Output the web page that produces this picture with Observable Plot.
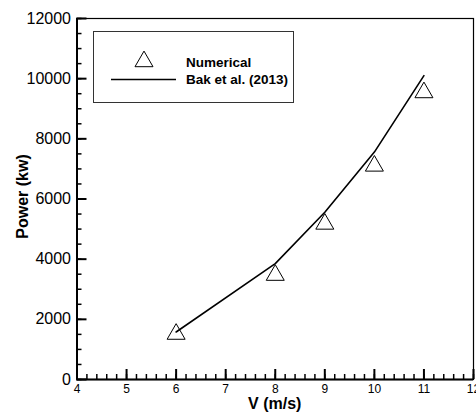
<!DOCTYPE html>
<html>
<head>
<meta charset="utf-8">
<script src="https://cdn.jsdelivr.net/npm/d3@7"></script>
<script src="https://cdn.jsdelivr.net/npm/@observablehq/plot@0.6"></script>
<style>
  body { margin: 0; background: white; }
  #chart { position: relative; width: 476px; height: 416px; }
</style>
</head>
<body>
<div id="chart"></div>
<script>
// Data
const speedNumerical = [6, 8, 9, 10, 11];
const powerNumerical = [1510, 3470, 5170, 7100, 9540];
const speedBak = [6, 8, 9, 10, 11];
const powerBak = [1580, 3850, 5560, 7560, 10100];

const xMajorTicks = [4, 5, 6, 7, 8, 9, 10, 11, 12];
const yMajorTicks = [0, 2000, 4000, 6000, 8000, 10000, 12000];
const xMinorTicks = d3.range(4, 12.0001, 0.2).map(v => +v.toFixed(1));
const yMinorTicks = d3.range(0, 12001, 500);

const legendLabels = ["Numerical", "Bak et al. (2013)"];
const xLabel = "V (m/s)";
const yLabel = "Power (kw)";

const numerical = speedNumerical.map((v, i) => ({v, p: powerNumerical[i]}));
const bak = speedBak.map((v, i) => ({v, p: powerBak[i]}));

const W = 476, H = 416;
const mL = 76.5, mR = 3, mT = 18, mB = 37;
const innerW = W - mL - mR, innerH = H - mT - mB;
const font = "Liberation Sans, Arial, Helvetica, sans-serif";

const plot = Plot.plot({
  width: W,
  height: H,
  marginLeft: mL,
  marginRight: mR,
  marginTop: mT,
  marginBottom: mB,
  style: {fontFamily: font, background: "white", color: "black", overflow: "visible"},
  x: {domain: [4, 12]},
  y: {domain: [0, 12000]},
  marks: [
    Plot.tickX(xMinorTicks, {x: d => d, insetTop: innerH - 5, stroke: "black", strokeWidth: 1.5}),
    Plot.tickX(xMajorTicks, {x: d => d, insetTop: innerH - 10, stroke: "black", strokeWidth: 2}),
    Plot.tickY(yMinorTicks, {y: d => d, insetRight: innerW - 5, stroke: "black", strokeWidth: 1.5}),
    Plot.tickY(yMajorTicks, {y: d => d, insetRight: innerW - 10, stroke: "black", strokeWidth: 2}),
    Plot.axisX({ticks: xMajorTicks, tickSize: 0, tickPadding: 5, fontSize: 12, label: null, tickFormat: d => String(d)}),
    Plot.axisY({ticks: yMajorTicks, tickSize: 0, tickPadding: 6, fontSize: 16, label: null, tickFormat: d => String(d)}),
    Plot.frame({stroke: "black", strokeWidth: 1.2}),
    Plot.ruleX([4], {stroke: "black", strokeWidth: 2}),
    Plot.ruleY([0], {stroke: "black", strokeWidth: 2}),
    Plot.line(bak, {x: "v", y: "p", stroke: "black", strokeWidth: 1.6}),
    Plot.dot(numerical, {x: "v", y: "p", symbol: "triangle", r: 6.69, stroke: "black", fill: "none", strokeWidth: 1})
  ]
});

const svg = d3.select(plot);

// Axis titles
svg.append("text")
  .attr("x", mL + innerW / 2).attr("y", 409)
  .attr("text-anchor", "middle")
  .attr("font-family", font).attr("font-weight", "bold").attr("font-size", 16)
  .attr("fill", "black")
  .text(xLabel);
svg.append("text")
  .attr("transform", `translate(28,${mT + innerH / 2 - 2}) rotate(-90)`)
  .attr("text-anchor", "middle")
  .attr("font-family", font).attr("font-weight", "bold").attr("font-size", 16)
  .attr("fill", "black")
  .text(yLabel);

// Legend
const lg = svg.append("g");
lg.append("rect")
  .attr("x", 93.5).attr("y", 31.5).attr("width", 200).attr("height", 71)
  .attr("fill", "white").attr("stroke", "#333").attr("stroke-width", 1);
lg.append("path")
  .attr("d", d3.symbol(d3.symbolTriangle, 6.69 * 6.69 * Math.PI)())
  .attr("transform", "translate(144,61.5)")
  .attr("fill", "none").attr("stroke", "black").attr("stroke-width", 1);
lg.append("line")
  .attr("x1", 111).attr("x2", 176).attr("y1", 79.5).attr("y2", 79.5)
  .attr("stroke", "black").attr("stroke-width", 1.6);
lg.selectAll("text.lab").data(legendLabels).join("text")
  .attr("class", "lab")
  .attr("x", 186).attr("y", (d, i) => 66.5 + i * 17)
  .attr("text-anchor", "start")
  .attr("font-family", font).attr("font-weight", "bold").attr("font-size", 13.5)
  .attr("fill", "black")
  .text(d => d);

document.getElementById("chart").appendChild(plot);
</script>
</body>
</html>
